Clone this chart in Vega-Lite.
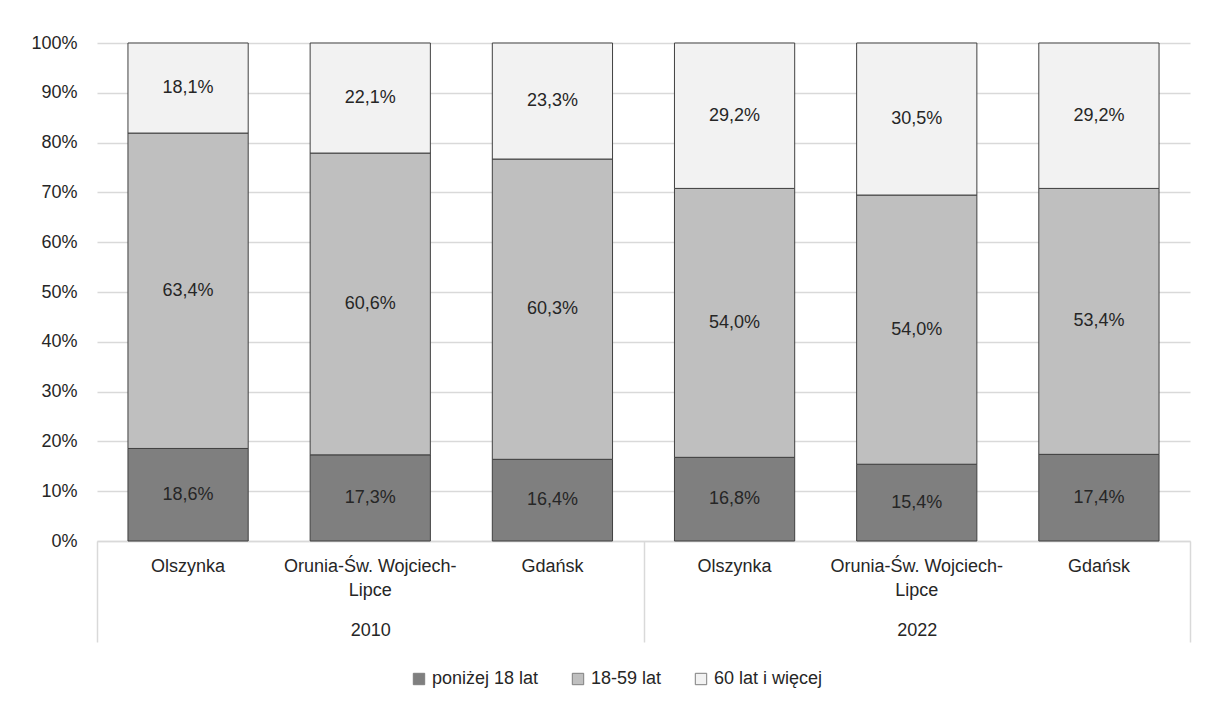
{
  "$schema": "https://vega.github.io/schema/vega-lite/v6.json",
  "width": 1093,
  "height": 498,
  "autosize": {"type": "none"},
  "padding": {"left": 97, "top": 43, "right": 18, "bottom": 168},
  "background": "white",
  "config": {
    "font": "Liberation Sans",
    "view": {"stroke": null},
    "locale": {"number": {"decimal": ",", "thousands": " ", "grouping": [3], "currency": ["", "%"]}},
    "axis": {"labelFont": "Liberation Sans", "labelFontSize": 18, "labelColor": "#262626"},
    "legend": {"labelFont": "Liberation Sans", "labelFontSize": 18, "labelColor": "#262626"}
  },
  "data": {
    "values": [
      {"key": "2010|Olszynka", "year": 2010, "grp": "poniżej 18 lat", "o": 1, "v": 18.6},
      {"key": "2010|Olszynka", "year": 2010, "grp": "18-59 lat", "o": 2, "v": 63.4},
      {"key": "2010|Olszynka", "year": 2010, "grp": "60 lat i więcej", "o": 3, "v": 18.1},
      {"key": "2010|Orunia-Św. Wojciech-|Lipce", "year": 2010, "grp": "poniżej 18 lat", "o": 1, "v": 17.3},
      {"key": "2010|Orunia-Św. Wojciech-|Lipce", "year": 2010, "grp": "18-59 lat", "o": 2, "v": 60.6},
      {"key": "2010|Orunia-Św. Wojciech-|Lipce", "year": 2010, "grp": "60 lat i więcej", "o": 3, "v": 22.1},
      {"key": "2010|Gdańsk", "year": 2010, "grp": "poniżej 18 lat", "o": 1, "v": 16.4},
      {"key": "2010|Gdańsk", "year": 2010, "grp": "18-59 lat", "o": 2, "v": 60.3},
      {"key": "2010|Gdańsk", "year": 2010, "grp": "60 lat i więcej", "o": 3, "v": 23.3},
      {"key": "2022|Olszynka", "year": 2022, "grp": "poniżej 18 lat", "o": 1, "v": 16.8},
      {"key": "2022|Olszynka", "year": 2022, "grp": "18-59 lat", "o": 2, "v": 54.0},
      {"key": "2022|Olszynka", "year": 2022, "grp": "60 lat i więcej", "o": 3, "v": 29.2},
      {"key": "2022|Orunia-Św. Wojciech-|Lipce", "year": 2022, "grp": "poniżej 18 lat", "o": 1, "v": 15.4},
      {"key": "2022|Orunia-Św. Wojciech-|Lipce", "year": 2022, "grp": "18-59 lat", "o": 2, "v": 54.0},
      {"key": "2022|Orunia-Św. Wojciech-|Lipce", "year": 2022, "grp": "60 lat i więcej", "o": 3, "v": 30.5},
      {"key": "2022|Gdańsk", "year": 2022, "grp": "poniżej 18 lat", "o": 1, "v": 17.4},
      {"key": "2022|Gdańsk", "year": 2022, "grp": "18-59 lat", "o": 2, "v": 53.4},
      {"key": "2022|Gdańsk", "year": 2022, "grp": "60 lat i więcej", "o": 3, "v": 29.2}
    ]
  },
  "layer": [
    {
      "layer": [
        {
          "mark": {"type": "bar", "stroke": "#404040", "strokeWidth": 1},
          "encoding": {
            "x": {
              "field": "key", "type": "nominal", "sort": null,
              "scale": {"paddingInner": 0.34, "paddingOuter": 0.17},
              "axis": {
                "title": null, "ticks": false, "domainColor": "#d9d9d9", "domainWidth": 1.5,
                "labelPadding": 16, "labelAngle": 0, "labelLineHeight": 24,
                "labelExpr": "slice(split(datum.value, '|'), 1)"
              }
            },
            "y": {
              "field": "v", "type": "quantitative", "stack": "normalize",
              "scale": {"domain": [0, 1]},
              "axis": {
                "title": null, "format": ".0%", "values": [0, 0.1, 0.2, 0.3, 0.4, 0.5, 0.6, 0.7, 0.8, 0.9, 1],
                "grid": true, "gridColor": "#d9d9d9", "gridWidth": 1.5, "ticks": false, "domain": false, "labelPadding": 20
              }
            },
            "order": {"field": "o", "type": "quantitative"},
            "color": {
              "field": "grp", "type": "nominal",
              "scale": {"domain": ["poniżej 18 lat", "18-59 lat", "60 lat i więcej"], "range": ["#7f7f7f", "#bfbfbf", "#f2f2f2"]},
              "legend": {
                "title": null, "orient": "none", "direction": "horizontal", "legendX": 313, "legendY": 627,
                "symbolType": "square", "symbolSize": 130, "symbolStrokeColor": "#7f7f7f", "symbolStrokeWidth": 1,
                "columnPadding": 30, "labelOffset": 4
              }
            }
          }
        },
        {
          "mark": {"type": "text", "fontSize": 18, "color": "#262626", "font": "Liberation Sans"},
          "encoding": {
            "x": {"field": "key", "type": "nominal", "sort": null},
            "y": {"field": "v", "type": "quantitative", "stack": "normalize", "bandPosition": 0.5},
            "order": {"field": "o", "type": "quantitative"},
            "detail": {"field": "grp", "type": "nominal"},
            "text": {"field": "v", "type": "quantitative", "format": "$.1f"}
          }
        }
      ]
    },
    {
      "mark": {"type": "rule", "opacity": 0},
      "encoding": {
        "x": {
          "field": "year", "type": "ordinal",
          "scale": {"type": "band", "paddingInner": 0, "paddingOuter": 0},
          "axis": {
            "title": null, "orient": "bottom", "domain": false, "tickBand": "extent",
            "tickSize": 101, "tickColor": "#d9d9d9", "tickWidth": 1.5, "labelPadding": -21, "labelAngle": 0
          }
        }
      }
    }
  ],
  "resolve": {"scale": {"x": "independent"}, "axis": {"x": "independent"}}
}
